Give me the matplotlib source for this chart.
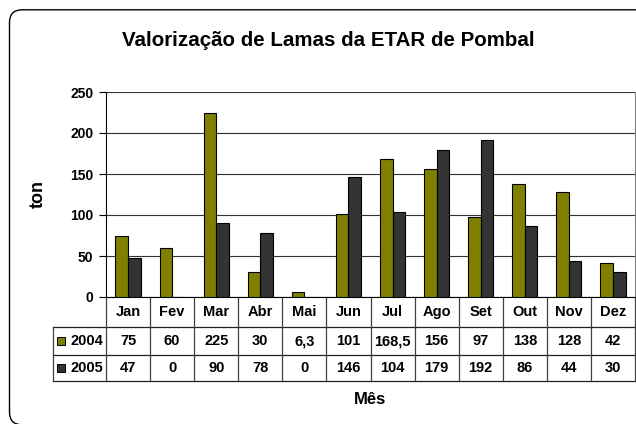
import numpy as np
import matplotlib.pyplot as plt
from matplotlib.patches import FancyBboxPatch, Rectangle
from matplotlib.transforms import blended_transform_factory

plt.rcParams['font.family'] = ['Liberation Sans', 'DejaVu Sans']
plt.rcParams['font.weight'] = 'bold'

# data
months = ['Jan', 'Fev', 'Mar', 'Abr', 'Mai', 'Jun', 'Jul', 'Ago', 'Set', 'Out', 'Nov', 'Dez']
v2004 = [75, 60, 225, 30, 6.3, 101, 168.5, 156, 97, 138, 128, 42]
v2005 = [47, 0, 90, 78, 0, 146, 104, 179, 192, 86, 44, 30]
lab2004 = ['75', '60', '225', '30', '6,3', '101', '168,5', '156', '97', '138', '128', '42']
lab2005 = ['47', '0', '90', '78', '0', '146', '104', '179', '192', '86', '44', '30']
series = ['2004', '2005']
colors = ['#808000', '#333333']

W, H = 636, 424
fig = plt.figure(figsize=(W / 100, H / 100), dpi=100)

# outer rounded frame, runs off the right and bottom edges like the original
frame = FancyBboxPatch((9.5 / W, -0.8 / H), 640 / W, 415 / H,
                       boxstyle='round,pad=0,rounding_size=0.02',
                       transform=fig.transFigure, fill=False,
                       edgecolor='black', lw=1.0, clip_on=False,
                       mutation_aspect=W / H)
fig.patches.append(frame)

ax = fig.add_axes([106 / W, (H - 297) / H, 529 / W, 205 / H])
x = np.arange(len(months))
bw = 0.285
ax.bar(x - bw / 2, v2004, bw, color=colors[0], edgecolor='black', lw=0.8, zorder=3)
ax.bar(x + bw / 2, v2005, bw, color=colors[1], edgecolor='black', lw=0.8, zorder=3)

ax.set_xlim(-0.5, 11.5)
ax.set_ylim(0, 250)
ax.set_yticks([0, 50, 100, 150, 200, 250])
ax.tick_params(axis='y', labelsize=10, length=5, width=0.8, pad=4)
ax.set_xticks([])
ax.yaxis.grid(True, color='#303030', lw=0.8)
ax.set_axisbelow(True)
ax.spines['top'].set_visible(False)
ax.spines['right'].set_color('#808080')

ax.set_ylabel('ton', fontsize=13, fontweight='bold', labelpad=17)

# data table under the axes
tr = blended_transform_factory(ax.transData, ax.transAxes)
px = 1 / 205
rows = [0, -30 * px, -58 * px, -84 * px]
leg_left = -0.5 - 53 * 12 / 529
line_kw = dict(transform=tr, clip_on=False, lw=0.9)

for y in rows[1:]:
    ax.plot([leg_left, 11.5], [y, y], color='#202020', **line_kw)
for i in range(13):
    ax.plot([i - 0.5, i - 0.5], [rows[0], rows[3]], color='#404040', **line_kw)
ax.plot([leg_left, leg_left], [rows[1], rows[3]], color='#404040', **line_kw)

fs = 10.5
for i, m in enumerate(months):
    ax.text(i, (rows[0] + rows[1]) / 2, m, transform=tr, ha='center', va='center', fontsize=fs)
    ax.text(i, (rows[1] + rows[2]) / 2, lab2004[i], transform=tr, ha='center', va='center', fontsize=fs)
    ax.text(i, (rows[2] + rows[3]) / 2, lab2005[i], transform=tr, ha='center', va='center', fontsize=fs)

for k, (name, c) in enumerate(zip(series, colors)):
    yc = (rows[k + 1] + rows[k + 2]) / 2
    ax.add_patch(Rectangle((leg_left + 0.08, yc - 4 * px), 8 * 12 / 529, 8 * px,
                           transform=tr, facecolor=c, edgecolor='black', lw=0.7, clip_on=False))
    ax.text(-0.56, yc, name, transform=tr, ha='right', va='center', fontsize=fs)

fig.text(328 / W, 1 - 40 / H, 'Valorização de Lamas da ETAR de Pombal',
         ha='center', va='center', fontsize=14.8)
fig.text(370 / W, 1 - 399 / H, 'Mês', ha='center', va='center', fontsize=12)

fig.savefig('out.png', dpi=100)
